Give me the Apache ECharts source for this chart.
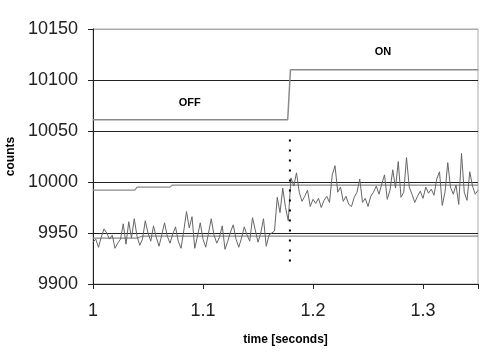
<!DOCTYPE html>
<html>
<head>
<meta charset="utf-8">
<script src="https://cdn.jsdelivr.net/npm/echarts@6/dist/echarts.min.js"></script>
<style>html,body{margin:0;padding:0;background:#fff}#c{width:500px;height:364px}</style>
</head>
<body>
<div id="c"></div>
<script>
// time axis start and step of the sampled signal
const tStart = 1.0;
const tStep = 0.0025;
// measured counts
const counts = [
9941,9944,9936,9946,9954,9950,9944,9948,9935,9940,
9944,9959,9939,9961,9945,9964,9947,9938,9944,9962,
9950,9942,9957,9946,9937,9948,9960,9947,9940,9949,
9956,9942,9935,9952,9971,9955,9966,9935,9947,9960,
9944,9936,9950,9964,9948,9940,9946,9957,9934,9942,
9951,9958,9944,9936,9945,9956,9948,9942,9965,9953,
9941,9950,9964,9937,9948,9950,9952,9985,9970,9994,
9975,9962,10004,9996,10009,9990,9981,9986,9992,9976,
9983,9979,9984,9975,9982,9986,9980,10007,10016,9990,
9995,9981,9986,9978,9976,9985,9990,10003,9980,9984,
9976,9986,9990,9996,9988,9998,10007,9983,9992,10012,
9994,10020,9985,9990,10024,9995,9988,9980,9986,9991,
9984,9995,9989,9993,9987,10003,10010,9977,9990,10019,
9995,9988,9997,9978,10028,9990,9982,10010,9996,9988,
9992
];
// switch state trace (time, level)
const stateT = [1.0, 1.177, 1.1795, 1.35];
const stateV = [10061, 10061, 10110, 10110];
// running upper / lower reference traces
const upperT = [1.0, 1.038, 1.04, 1.07, 1.072, 1.35];
const upperV = [9992, 9992, 9995, 9995, 9997, 9997];
const lowerT = [1.0, 1.04, 1.045, 1.35];
const lowerV = [9945, 9945, 9947, 9947];
// switch moment marker
const switchT = 1.179;
const switchRange = [9922, 10045];
// annotations
const labelsTxt = ['OFF', 'ON'];
const labelsT = [1.088, 1.2636];
const labelsV = [10077, 10127];
// axis ticks
const yTicks = [9900, 9950, 10000, 10050, 10100, 10150];
const xTicks = [1, 1.1, 1.2, 1.3];

const pair = (ts, vs) => ts.map((t, i) => [t, vs[i]]);
const signal = counts.map((v, i) => [+(tStart + i * tStep).toFixed(4), v]);

const chart = echarts.init(document.getElementById('c'), null, {renderer: 'canvas'});
const dark = '#222';
chart.setOption({
  animation: false,
  backgroundColor: '#fff',
  grid: {left: 93, right: 22, top: 29, bottom: 80, show: true, borderColor: '#aaa', borderWidth: 1,
    containLabel: false, outerBoundsMode: 'none'},
  xAxis: {
    type: 'value', min: 1, max: 1.35, interval: 0.1,
    name: 'time [seconds]', nameLocation: 'middle', nameGap: 50,
    nameTextStyle: {fontFamily: 'Liberation Sans', fontWeight: 'bold', fontSize: 12, color: '#000'},
    axisLine: {show: true, lineStyle: {color: dark, width: 1}},
    axisTick: {show: true, length: 5, lineStyle: {color: dark}},
    axisLabel: {margin: 18, fontFamily: 'Liberation Sans', fontSize: 18, color: '#222',
      formatter: v => { const r = Math.round(v * 10) / 10; return xTicks.some(t => Math.abs(t - v) < 1e-6) ? String(r) : ''; }},
    splitLine: {show: false}
  },
  yAxis: {
    type: 'value', min: 9900, max: 10150, interval: 50,
    name: 'counts', nameLocation: 'middle', nameGap: 76, nameRotate: 90,
    nameTextStyle: {fontFamily: 'Liberation Sans', fontWeight: 'bold', fontSize: 12, color: '#000'},
    axisLine: {show: true, lineStyle: {color: dark, width: 1}},
    axisTick: {show: true, length: 5, lineStyle: {color: dark}},
    axisLabel: {margin: 15, fontFamily: 'Liberation Sans', fontSize: 18, color: '#222',
      formatter: v => yTicks.includes(v) ? String(v) : ''},
    splitLine: {show: true, lineStyle: {color: [dark, dark, dark, dark, dark, '#aaa'], width: 1}}
  },
  series: [
    {type: 'line', data: pair(upperT, upperV), symbol: 'none', lineStyle: {color: '#8a8a8a', width: 1.2}, z: 3},
    {type: 'line', data: pair(lowerT, lowerV), symbol: 'none', lineStyle: {color: '#8a8a8a', width: 1.2}, z: 3},
    {type: 'line', data: pair(stateT, stateV), symbol: 'none', lineStyle: {color: '#8a8a8a', width: 1.5}, z: 3,
      markPoint: {symbol: 'circle', symbolSize: 0,
        data: labelsTxt.map((t, i) => ({coord: [labelsT[i], labelsV[i]], value: t})),
        label: {show: true, formatter: p => p.value, fontFamily: 'Liberation Sans', fontWeight: 'bold', fontSize: 11, color: '#000'}}},
    {type: 'line', data: signal, symbol: 'none', lineStyle: {color: '#666', width: 1}, z: 4},
    {type: 'line', data: [[switchT, switchRange[0]], [switchT, switchRange[1]]], symbol: 'none',
      lineStyle: {color: '#000', width: 2, type: [2, 8]}, z: 5}
  ]
});
</script>
</body>
</html>
